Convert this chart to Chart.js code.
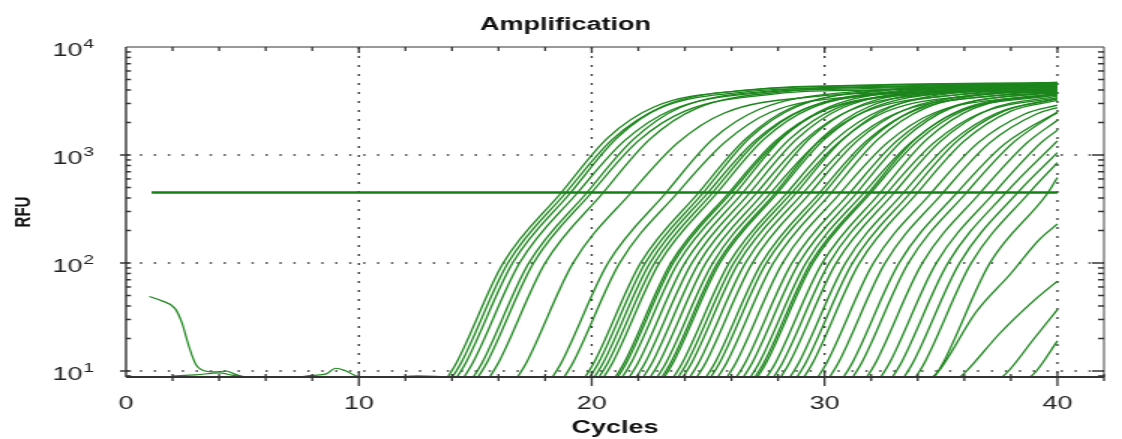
<!DOCTYPE html>
<html>
<head>
<meta charset="utf-8">
<title>Amplification</title>
<script src="https://cdn.jsdelivr.net/npm/chart.js@4/dist/chart.umd.min.js"></script>
<style>
html, body { margin: 0; padding: 0; background: #fff; overflow: hidden; }
/* the reference is stretched sideways, so draw narrow and widen it */
#wrap { position: relative; width: 748px; height: 439px; transform: scaleX(1.5); transform-origin: 0 0; }
</style>
</head>
<body>
<div id="wrap"><canvas id="grafico"></canvas></div>
<script>
/* DADOS: [ciclo, RFU] de cada curva */
const ampCurves = [
  [[13.7,8],[14.2,12],[16.2,100],[18.7,450],[20.7,1450],[22.7,2800],[26.7,4000],[30.7,4350],[40,4650]],
  [[13.9,8],[14.4,12],[16.4,100],[18.9,450],[20.9,1400],[22.9,2700],[26.9,3900],[30.9,4200],[40,4500]],
  [[14.1,8],[14.6,12],[16.6,100],[19.1,450],[21.1,1450],[23.1,2850],[27.1,4050],[31.1,4400],[40,4700]],
  [[14.4,8],[14.9,12],[16.9,100],[19.4,450],[21.4,1350],[23.4,2600],[27.4,3800],[31.4,4100],[40,4400]],
  [[14.8,8],[15.3,12],[17.3,100],[19.8,450],[21.8,1400],[23.8,2750],[27.8,3950],[31.8,4300],[40,4600]],
  [[15.0,8],[15.5,12],[17.5,100],[20.0,450],[22.0,1350],[24.0,2550],[28.0,3700],[32.0,4000],[40,4300]],
  [[15.5,8],[16.0,12],[18.0,100],[20.5,450],[22.5,1400],[24.5,2700],[28.5,3900],[32.5,4250],[40,4550]],
  [[16.7,8],[17.2,12],[19.2,100],[21.7,450],[23.7,1300],[25.7,2450],[29.7,3500],[33.7,3800],[40,4000]],
  [[18.2,8],[18.7,12],[20.7,100],[23.2,450],[25.2,1400],[27.2,2650],[31.2,3850],[35.2,4150],[40,4450]],
  [[18.7,8],[19.2,12],[21.2,100],[23.7,450],[25.7,1300],[27.7,2500],[31.7,3550],[35.7,3850],[40,4100]],
  [[19.6,8],[20.1,12],[22.1,100],[24.6,450],[26.6,1400],[28.6,2750],[32.6,3950],[36.6,4300],[40,4600]],
  [[19.8,8],[20.3,12],[22.3,100],[24.8,450],[26.8,1450],[28.8,2800],[32.8,4050],[36.8,4400],[40,4700]],
  [[20.0,8],[20.5,12],[22.5,100],[25.0,450],[27.0,1350],[29.0,2600],[33.0,3750],[37.0,4100],[40,4350]],
  [[20.2,8],[20.7,12],[22.7,100],[25.2,450],[27.2,1400],[29.2,2700],[33.2,3950],[37.2,4300],[40,4550]],
  [[20.4,8],[20.9,12],[22.9,100],[25.4,450],[27.4,1400],[29.4,2700],[33.4,3900],[37.4,4250],[40,4500]],
  [[20.9,8],[21.4,12],[23.4,100],[25.9,450],[27.9,1350],[29.9,2550],[33.9,3650],[37.9,3950],[40,4200]],
  [[21.0,8],[21.5,12],[23.5,100],[26.0,450],[28.0,1350],[30.0,2600],[34.0,3750],[38.0,4100],[40,4300]],
  [[21.2,8],[21.7,12],[23.7,100],[26.2,450],[28.2,1450],[30.2,2800],[34.2,4000],[38.2,4400],[40,4650]],
  [[21.5,8],[22.0,12],[24.0,100],[26.5,450],[28.5,1400],[30.5,2700],[34.5,3900],[38.5,4200],[40,4300]],
  [[21.8,8],[22.3,12],[24.3,100],[26.8,450],[28.8,1400],[30.8,2750],[34.8,3950],[38.8,4300],[40,4400]],
  [[22.1,8],[22.6,12],[24.6,100],[27.1,450],[29.1,1350],[31.1,2600],[35.1,3750],[39.1,4050],[40,4100]],
  [[22.4,8],[22.9,12],[24.9,100],[27.4,450],[29.4,1450],[31.4,2800],[35.4,4050],[39.4,4450],[40,4500]],
  [[22.7,8],[23.2,12],[25.2,100],[27.7,450],[29.7,1300],[31.7,2500],[35.7,3600],[40,3900]],
  [[22.9,8],[23.4,12],[25.4,100],[27.9,450],[29.9,1450],[31.9,2800],[35.9,4000],[40,4400]],
  [[23.0,8],[23.5,12],[25.5,100],[28.0,450],[30.0,1400],[32.0,2700],[36.0,3900],[40,4250]],
  [[23.4,8],[23.9,12],[25.9,100],[28.4,450],[30.4,1350],[32.4,2600],[36.4,3750],[40,4050]],
  [[23.6,8],[24.1,12],[26.1,100],[28.6,450],[30.6,1300],[32.6,2500],[36.6,3600],[40,3900]],
  [[23.8,8],[24.3,12],[26.3,100],[28.8,450],[30.8,1400],[32.8,2750],[36.8,3950],[40,4250]],
  [[24.1,8],[24.6,12],[26.6,100],[29.1,450],[31.1,1300],[33.1,2450],[37.1,3500],[40,3750]],
  [[24.4,8],[24.9,12],[26.9,100],[29.4,450],[31.4,1350],[33.4,2600],[37.4,3750],[40,4000]],
  [[24.8,8],[25.3,12],[27.3,100],[29.8,450],[31.8,1350],[33.8,2550],[37.8,3650],[40,3850]],
  [[25.0,8],[25.5,12],[27.5,100],[30.0,450],[32.0,1400],[34.0,2700],[38.0,3900],[40,4100]],
  [[25.3,8],[25.8,12],[27.8,100],[30.3,450],[32.3,1400],[34.3,2700],[38.3,3900],[40,4050]],
  [[25.7,8],[26.2,12],[28.2,100],[30.7,450],[32.7,1300],[34.7,2450],[38.7,3450],[40,3600]],
  [[26.1,8],[26.6,12],[28.6,100],[31.1,450],[33.1,1350],[35.1,2600],[39.1,3700],[40,3800]],
  [[26.4,8],[26.9,12],[28.9,100],[31.4,450],[33.4,1400],[35.4,2700],[40,3850]],
  [[26.7,8],[27.2,12],[29.2,100],[31.7,450],[33.7,1300],[35.7,2500],[40,3600]],
  [[26.9,8],[27.4,12],[29.4,100],[31.9,450],[33.9,1400],[35.9,2650],[40,3750]],
  [[27.0,8],[27.5,12],[29.5,100],[32.0,450],[34.0,1350],[36.0,2600],[40,3700]],
  [[27.4,8],[27.9,12],[29.9,100],[32.4,450],[34.4,1400],[36.4,2700],[40,3650]],
  [[27.7,8],[28.2,12],[30.2,100],[32.7,450],[34.7,1300],[36.7,2450],[40,3400]],
  [[28.0,8],[28.5,12],[30.5,100],[33.0,450],[35.0,1350],[37.0,2600],[40,3500]],
  [[28.4,8],[28.9,12],[30.9,100],[33.4,450],[35.4,1300],[37.4,2450],[40,3300]],
  [[28.7,8],[29.2,12],[31.2,100],[33.7,450],[35.7,1350],[37.7,2550],[40,3350]],
  [[29.0,8],[29.5,12],[31.5,100],[34.0,450],[36.0,1350],[38.0,2550],[40,3200]],
  [[29.6,8],[30.1,12],[32.1,100],[34.6,450],[36.6,1300],[38.6,2400],[40,2900]],
  [[30.1,8],[30.6,12],[32.6,100],[35.1,450],[37.1,1300],[39.1,2400],[40,2750]],
  [[30.7,8],[31.2,12],[33.2,100],[35.7,450],[37.7,1250],[39.7,2300],[40,2450]],
  [[31.1,8],[31.6,12],[33.6,100],[36.1,450],[38.1,1300],[40,2500]],
  [[31.7,8],[32.2,12],[34.2,100],[36.7,450],[38.7,1300],[40,2100]],
  [[32.3,8],[32.8,12],[34.8,100],[37.3,450],[39.3,1300],[40,1700]],
  [[32.8,8],[33.3,12],[35.3,100],[37.8,450],[40,1350]],
  [[33.3,8],[33.8,12],[35.8,100],[38.3,450],[40,1050]],
  [[33.8,8],[34.3,12],[36.3,100],[38.8,450],[40,850]],
  [[34.6,8],[35.1,12],[37.1,100],[39.6,450],[40,620]],
  [[34.4,8],[34.9,10],[36.5,35],[38.0,80],[39.2,163],[40,230]],
  [[35.6,8],[36.1,10],[37.5,22],[39.0,45],[40,68]],
  [[37.4,8],[37.9,10],[39.0,20],[40,37]],
  [[38.6,8],[39.1,10],[40,19]]
];

/* ruído da linha de base no início da corrida */
const noiseCurves = [
  [[1,49],[1.5,45],[2.1,38],[2.4,28],[2.7,17],[3.0,11.5],[3.4,10],[3.8,9.8],[4.3,10],[4.7,9.3],[5.2,8.6]],
  [[2.0,9.0],[3.0,9.2],[4.0,9.6],[4.6,9.1],[5.5,8.7]],
  [[7.3,8.7],[8.0,9.1],[8.6,9.4],[9.0,10.6],[9.4,10.1],[9.9,9.0],[10.5,8.7]],
  [[11.5,8.7],[12.5,9.0],[13.3,8.9],[14.0,8.6]]
];

const thresholdRFU = 450;
const thresholdCycles = [1.1, 40];

const xGridCycles = [10, 20, 30, 40];
const yDecades = [10, 100, 1000, 10000];
const yExponents = ['1', '2', '3', '4'];

const verde = 'rgb(28,134,28)';
const fonte = '"Liberation Sans", Arial, sans-serif';

/* MOLDURA, GRADE E RÓTULOS */
const moldura = {
  id: 'moldura',
  beforeDatasetsDraw(chart) {
    const {ctx, chartArea: a, scales: {x, y}} = chart;
    ctx.save();
    ctx.strokeStyle = '#333';
    // grade vertical pontilhada
    ctx.lineWidth = 1.3;
    ctx.setLineDash([2, 7]);
    xGridCycles.forEach(v => {
      const px = x.getPixelForValue(v);
      ctx.beginPath(); ctx.moveTo(px, a.top); ctx.lineTo(px, a.bottom); ctx.stroke();
    });
    // grade horizontal pontilhada
    ctx.lineWidth = 1.6;
    ctx.setLineDash([1.5, 7.8]);
    yDecades.slice(0, 3).forEach(v => {
      const py = y.getPixelForValue(v);
      ctx.beginPath(); ctx.moveTo(a.left, py); ctx.lineTo(a.right, py); ctx.stroke();
    });
    ctx.restore();
  },
  afterDatasetsDraw(chart) {
    const {ctx, chartArea: a, scales: {x, y}} = chart;
    ctx.save();
    ctx.setLineDash([]);
    // moldura
    ctx.strokeStyle = '#777'; ctx.lineWidth = 1.5;
    ctx.beginPath(); ctx.moveTo(a.left, a.top); ctx.lineTo(a.right, a.top); ctx.stroke();
    ctx.lineWidth = 1.1; ctx.strokeStyle = '#555';
    ctx.beginPath(); ctx.moveTo(a.right, a.top); ctx.lineTo(a.right, a.bottom); ctx.stroke();
    ctx.strokeStyle = '#333'; ctx.lineWidth = 2;
    ctx.beginPath(); ctx.moveTo(a.left, a.bottom); ctx.lineTo(a.right, a.bottom); ctx.stroke();
    ctx.lineWidth = 1.4;
    ctx.beginPath(); ctx.moveTo(a.left, a.top); ctx.lineTo(a.left, a.bottom); ctx.stroke();

    // marcas do eixo x (a cada 2 ciclos)
    ctx.lineWidth = 1.3;
    for (let v = 2; v <= x.max; v += 2) {
      const px = x.getPixelForValue(v);
      const big = v % 10 === 0;
      ctx.beginPath(); ctx.moveTo(px, a.bottom - (big ? 5 : 3)); ctx.lineTo(px, a.bottom + (big ? 9 : 4)); ctx.stroke();
      if (v < x.max) {
        ctx.beginPath(); ctx.moveTo(px, a.top); ctx.lineTo(px, a.top + (big ? 6 : 4)); ctx.stroke();
      }
    }
    // marcas logarítmicas do eixo y
    ctx.lineWidth = 1.5;
    for (let d = 1; d <= 1000; d *= 10) {
      for (let m = 1; m <= 9; m++) {
        const v = d * m;
        if (v < y.min || v > y.max) continue;
        const py = y.getPixelForValue(v);
        const big = m === 1 && d > 1;
        ctx.beginPath(); ctx.moveTo(a.left - (big ? 4 : 0), py); ctx.lineTo(a.left + 3.3, py); ctx.stroke();
        ctx.beginPath(); ctx.moveTo(a.right - (big ? 8 : 4), py); ctx.lineTo(a.right, py); ctx.stroke();
      }
    }
    // rótulos 10^n
    ctx.fillStyle = '#222';
    ctx.textBaseline = 'alphabetic';
    yDecades.forEach((v, i) => {
      const py = y.getPixelForValue(v);
      ctx.font = '18px ' + fonte;
      ctx.textAlign = 'right';
      ctx.fillText('10', 55, py + 9);
      ctx.font = '13px ' + fonte;
      ctx.textAlign = 'left';
      ctx.fillText(yExponents[i], 55.5, py + 0.5);
    });
    // título
    ctx.fillStyle = '#111';
    ctx.font = 'bold 18px ' + fonte;
    ctx.textAlign = 'center';
    ctx.textBaseline = 'middle';
    ctx.fillText('Amplification', 377, 25);
    ctx.restore();
  }
};

const linha = (pts, w, cor) => ({
  data: pts,
  borderColor: cor,
  borderWidth: w,
  pointRadius: 0,
  fill: false,
  cubicInterpolationMode: 'monotone'
});

const datasets = [];
noiseCurves.forEach(c => datasets.push(linha(c, 1.2, verde)));
ampCurves.forEach(c => datasets.push(linha(c, 1.3, verde)));
datasets.push(linha(thresholdCycles.map(c => [c, thresholdRFU]), 2.6, 'rgb(18,128,18)'));

const ctx = document.getElementById('grafico');
new Chart(ctx, {
  type: 'line',
  data: { datasets },
  options: {
    responsive: true,
    maintainAspectRatio: false,
    animation: false,
    events: [],
    layout: { padding: { top: 47, right: 12, bottom: 0, left: 0 } },
    plugins: { legend: { display: false }, tooltip: { enabled: false }, title: { display: false } },
    scales: {
      x: {
        type: 'linear', min: 0, max: 42,
        grid: { display: false }, border: { display: false },
        ticks: { stepSize: 10, includeBounds: false, padding: 8, color: '#222', font: { family: fonte, size: 18 } },
        title: { display: true, text: 'Cycles', color: '#111', padding: { top: 0, bottom: 0 }, font: { family: fonte, size: 18, weight: 'bold' } },
        afterFit: s => { s.height = 62; }
      },
      y: {
        type: 'logarithmic', min: 8.8, max: 10000,
        grid: { display: false }, border: { display: false },
        ticks: { display: false },
        title: { display: true, text: 'RFU', color: '#111', padding: { top: 7, bottom: 0 }, font: { family: fonte, size: 15, weight: 'bold' } },
        afterFit: s => { s.width = 84; }
      }
    }
  },
  plugins: [moldura]
});
</script>
</body>
</html>
